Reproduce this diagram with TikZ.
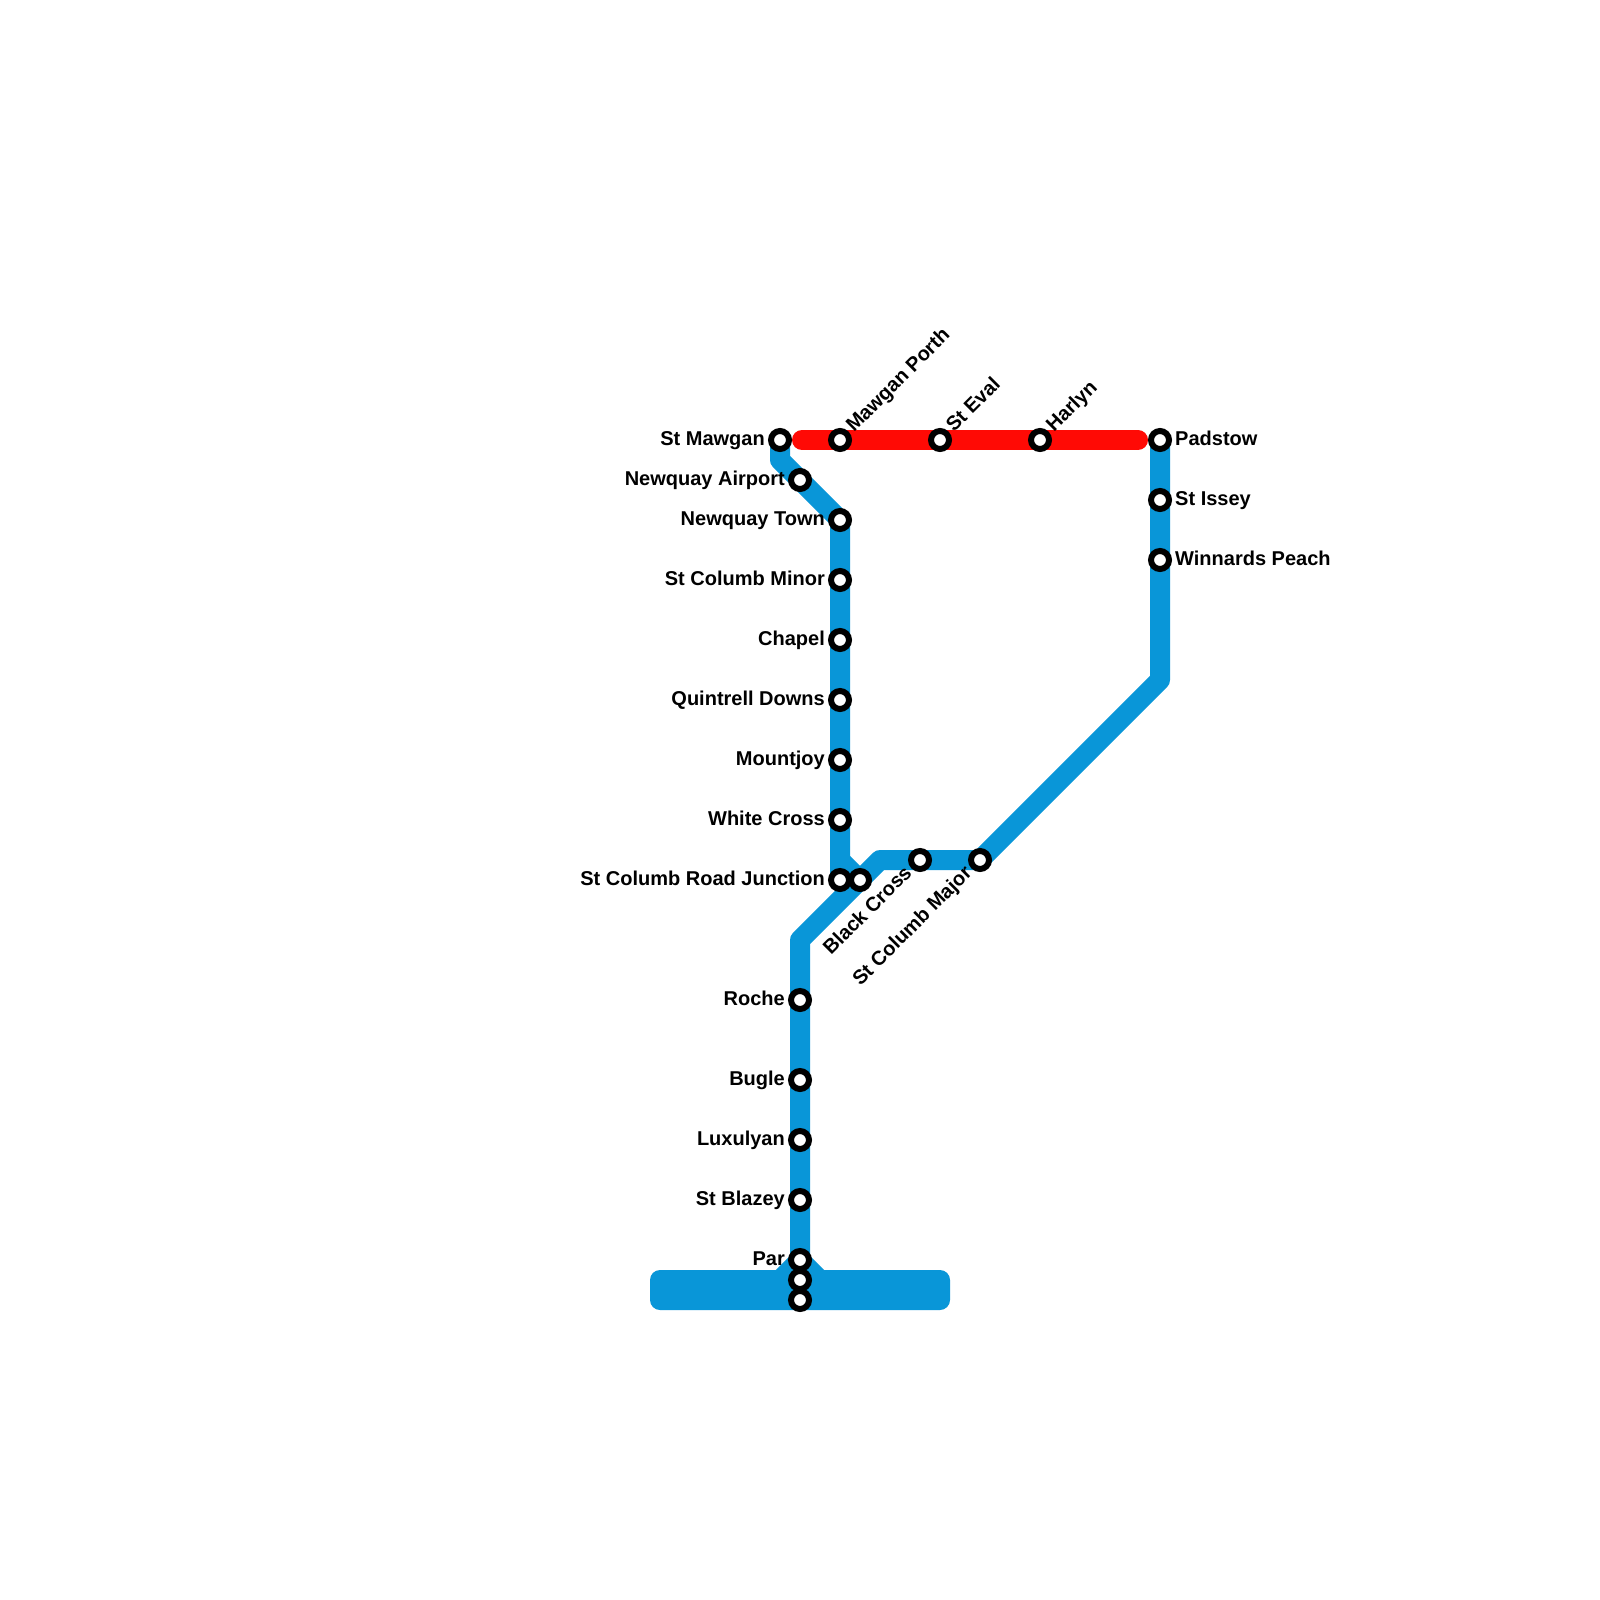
\documentclass[tikz,border=0pt]{standalone}
\usepackage{fontspec}
\setmainfont{Liberation Sans}
\usetikzlibrary{backgrounds}
\definecolor{lineblue}{HTML}{0996D8}
\definecolor{linered}{HTML}{FF0A05}
\tikzset{
  stn/.style={circle,draw=black,fill=white,line width=6pt,minimum size=18pt,inner sep=0pt,outer sep=0pt},
  lbl/.style={font=\bfseries\fontsize{20}{22}\selectfont,inner sep=0pt,text=black},
  lbll/.style={lbl,anchor=base east},
  lblr/.style={lbl,anchor=base west},
  blueline/.style={draw=lineblue,line width=20pt,line join=round,line cap=round},
  redline/.style={draw=linered,line width=20pt,line cap=round}
}
\begin{document}
\begin{tikzpicture}[x=1pt,y=-1pt]
\useasboundingbox (0,0) rectangle (1600,1600);
% bends and free ends
\coordinate (b1) at (780,460);
\coordinate (b0) at (840,860);
\coordinate (b2) at (1160,680);
\coordinate (b3) at (880,860);
\coordinate (b4) at (800,940);
\coordinate (b5) at (780,1280);
\coordinate (b6) at (820,1280);
\coordinate (r1) at (802,440);
\coordinate (r2) at (1138,440);
% stations
\node[stn] (mawgan) at (780,440) {};
\node[stn] (airport) at (800,480) {};
\node[stn] (town) at (840,520) {};
\node[stn] (minor) at (840,580) {};
\node[stn] (chapel) at (840,640) {};
\node[stn] (quin) at (840,700) {};
\node[stn] (mount) at (840,760) {};
\node[stn] (white) at (840,820) {};
\node[stn] (junction) at (840,880) {};
\node[stn] (junc2) at (860,880) {};
\node[stn] (black) at (920,860) {};
\node[stn] (major) at (980,860) {};
\node[stn] (porth) at (840,440) {};
\node[stn] (eval) at (940,440) {};
\node[stn] (harlyn) at (1040,440) {};
\node[stn] (padstow) at (1160,440) {};
\node[stn] (issey) at (1160,500) {};
\node[stn] (peach) at (1160,560) {};
\node[stn] (roche) at (800,1000) {};
\node[stn] (bugle) at (800,1080) {};
\node[stn] (lux) at (800,1140) {};
\node[stn] (blazey) at (800,1200) {};
\node[stn] (par) at (800,1260) {};
\node[stn] (par2) at (800,1280) {};
\node[stn] (par3) at (800,1300) {};
% labels
\node[lbll] (tmawgan) at (765,445) {St Mawgan};
\node[lbll] (tairport) at (785,485) {Newquay Airport};
\node[lbll] (ttown) at (825,525) {Newquay Town};
\node[lbll] (tminor) at (825,585) {St Columb Minor};
\node[lbll] (tchapel) at (825,645) {Chapel};
\node[lbll] (tquin) at (825,705) {Quintrell Downs};
\node[lbll] (tmount) at (825,765) {Mountjoy};
\node[lbll] (twhite) at (825,825) {White Cross};
\node[lbll] (tjunction) at (825,885) {St Columb Road Junction};
\node[lbll] (troche) at (785,1005) {Roche};
\node[lbll] (tbugle) at (785,1085) {Bugle};
\node[lbll] (tlux) at (785,1145) {Luxulyan};
\node[lbll] (tblazey) at (785,1205) {St Blazey};
\node[lbll] (tpar) at (785,1265) {Par};
\node[lblr] (tpadstow) at (1175,445) {Padstow};
\node[lblr] (tissey) at (1175,505) {St Issey};
\node[lblr] (tpeach) at (1175,565) {Winnards Peach};
\node[lbl,anchor=base west,rotate=45] (tporth) at (854,433) {Mawgan Porth};
\node[lbl,anchor=base west,rotate=45] (teval) at (954,433) {St Eval};
\node[lbl,anchor=base west,rotate=45] (tharlyn) at (1054,433) {Harlyn};
\node[lbl,anchor=base east,rotate=45] (tblack) at (913,874) {Black Cross};
\node[lbl,anchor=base east,rotate=45] (tmajor) at (973,874) {St Columb Major};
% lines
\begin{pgfonlayer}{background}
\fill[white] (0,0) rectangle (1600,1600);
\draw[blueline] (mawgan.center) -- (b1) -- (town.center) -- (junction.center);
\draw[blueline] (b0) -- (junc2.center);
\draw[blueline] (padstow.center) -- (b2) -- (major.center) -- (b3) -- (b4) -- (par.center);
\draw[blueline] (b5) -- (par.center) -- (b6);
\fill[lineblue,rounded corners=10pt] (650,1270) rectangle (950,1310);
\draw[redline] (r1) -- (porth.center) -- (eval.center) -- (harlyn.center) -- (r2);
\end{pgfonlayer}
\end{tikzpicture}
\end{document}
